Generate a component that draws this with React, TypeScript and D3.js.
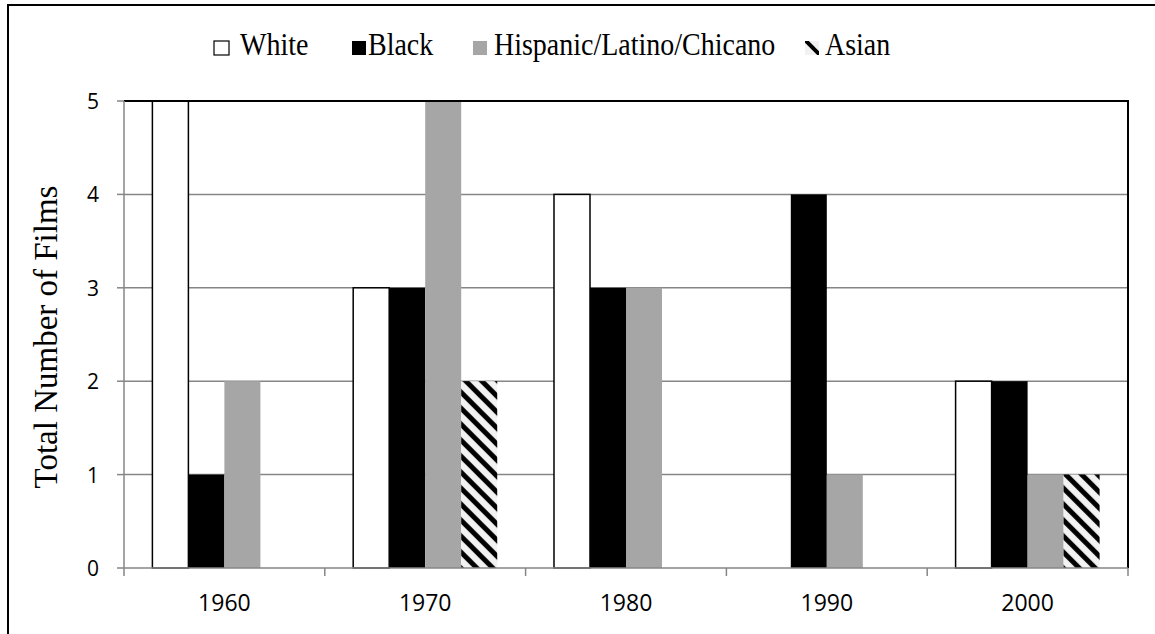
import React from "react";
import * as d3 from "d3";

const decades = ["1960", "1970", "1980", "1990", "2000"];
const seriesNames = ["White", "Black", "Hispanic/Latino/Chicano", "Asian"];
const white = [5, 3, 4, 0, 2];
const black = [1, 3, 3, 4, 2];
const hispanic = [2, 5, 3, 1, 1];
const asian = [0, 2, 0, 0, 1];
const yTicks = [0, 1, 2, 3, 4, 5];

const seriesValues = [white, black, hispanic, asian];

const W = 1155;
const H = 634;
const plot = { left: 124, right: 1128, top: 101, bottom: 568 };
const legendMarkerX = [214, 352, 473, 805];
const legendTextX = [240, 368, 494, 825];
const serif = "Liberation Serif, Times New Roman, serif";
const sans = "Open Sans, sans-serif";

export default function App() {
  const x0 = d3.scaleBand<string>().domain(decades).range([plot.left, plot.right]).padding(0);
  const bw = x0.bandwidth();
  const gap = bw * 0.1414;
  const x1 = d3.scaleBand<string>().domain(seriesNames).range([gap, bw - gap]).padding(0);
  const y = d3.scaleLinear().domain([0, 5]).range([plot.bottom, plot.top]);

  const fills = ["#ffffff", "#000000", "#a6a6a6", "url(#asianPat)"];
  const boundaries = [...decades.map((d) => x0(d) as number), plot.right];

  return (
    <svg
      width={W}
      height={H}
      style={{ position: "absolute", left: 0, top: 0, display: "block", background: "#fff" }}
    >
      <defs>
        <pattern id="asianPat" patternUnits="userSpaceOnUse" width={16} height={16}>
          <rect width={16} height={16} fill="#f2f2f2" />
          <path d="M-4,-4 L20,20 M-4,12 L4,20 M12,-4 L20,4" stroke="#000" strokeWidth={5} />
        </pattern>
        <pattern id="legPat" patternUnits="userSpaceOnUse" width={16} height={16} x={805} y={40}>
          <rect width={16} height={16} fill="#f2f2f2" />
          <path d="M-4,-4 L20,20" stroke="#000" strokeWidth={4} />
        </pattern>
      </defs>
      {/* outer frame */}
      <rect x={8} y={5} width={1200} height={700} fill="none" stroke="#000" strokeWidth={2} />

      {/* legend */}
      {seriesNames.map((s, i) => (
        <g key={s}>
          <rect
            x={legendMarkerX[i]}
            y={41}
            width={i === 0 ? 15 : 14}
            height={14}
            fill={i === 3 ? "url(#legPat)" : fills[i]}
            stroke={i === 0 ? "#000" : "none"}
            strokeWidth={1.2}
          />
          <text
            transform={`translate(${legendTextX[i]},55) scale(1,1.15)`}
            fontFamily={serif}
            fontSize={28}
            fill="#000"
          >
            {s}
          </text>
        </g>
      ))}

      {/* gridlines */}
      {yTicks
        .filter((t) => t > 0 && t < 5)
        .map((t) => (
          <line key={t} x1={plot.left} x2={plot.right} y1={y(t)} y2={y(t)} stroke="#868686" strokeWidth={1.5} />
        ))}

      {/* bars */}
      {decades.map((d, di) => (
        <g key={d} transform={`translate(${x0(d)},0)`}>
          {seriesNames.map((s, si) => {
            const v = seriesValues[si][di];
            if (!v) return null;
            const bx = x1(s) as number;
            return (
              <rect
                key={s}
                x={bx}
                y={y(v)}
                width={x1.bandwidth()}
                height={y(0) - y(v)}
                fill={fills[si]}
                stroke={si === 0 ? "#000" : "none"}
                strokeWidth={1.5}
              />
            );
          })}
        </g>
      ))}

      {/* plot border top & right */}
      <line x1={plot.left} x2={plot.right + 1} y1={plot.top} y2={plot.top} stroke="#000" strokeWidth={2} />
      <line x1={plot.right} x2={plot.right} y1={plot.top} y2={plot.bottom} stroke="#000" strokeWidth={2} />

      {/* y axis */}
      <line x1={plot.left} x2={plot.left} y1={plot.top} y2={plot.bottom} stroke="#868686" strokeWidth={1.5} />
      {yTicks.map((t) => (
        <g key={t}>
          <line x1={plot.left - 7} x2={plot.left} y1={y(t)} y2={y(t)} stroke="#868686" strokeWidth={1.5} />
          <text
            x={99}
            y={y(t) + 8}
            textAnchor="end"
            fontFamily={sans}
            fontSize={21}
            fill="#000"
          >
            {t}
          </text>
        </g>
      ))}

      {/* x axis */}
      <line x1={plot.left} x2={plot.right} y1={plot.bottom} y2={plot.bottom} stroke="#868686" strokeWidth={1.5} />
      {boundaries.map((b, i) => (
        <line key={i} x1={b} x2={b} y1={plot.bottom} y2={plot.bottom + 8} stroke="#868686" strokeWidth={1.5} />
      ))}
      {decades.map((d) => (
        <text
          key={d}
          x={(x0(d) as number) + bw / 2}
          y={611}
          textAnchor="middle"
          fontFamily={sans}
          fontSize={23}
          fill="#000"
        >
          {d}
        </text>
      ))}

      {/* y axis title */}
      <text
        transform={`translate(57,${337}) rotate(-90)`}
        textAnchor="middle"
        fontFamily={serif}
        fontSize={33}
        fill="#000"
      >
        Total Number of Films
      </text>
    </svg>
  );
}
